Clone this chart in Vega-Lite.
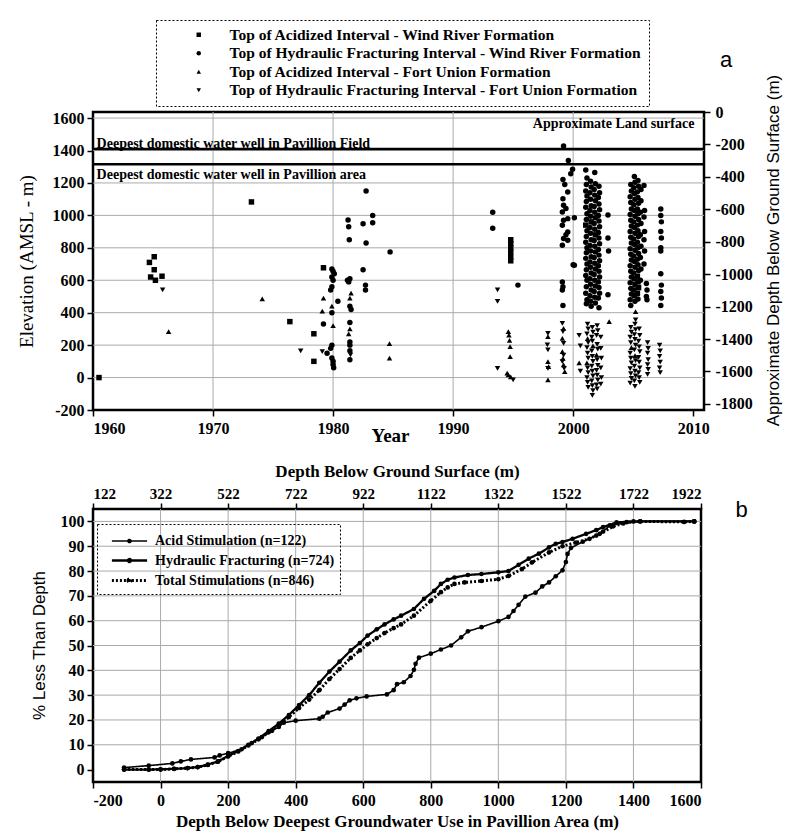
{
"$schema": "https://vega.github.io/schema/vega-lite/v6.json",
"background": "white",
"padding": {"left": 15, "top": 18, "right": 0, "bottom": 0},
"config": {
  "view": {"stroke": "black", "strokeWidth": 2.5},
  "axis": {"grid": false, "labelFont": "Liberation Serif", "labelFontWeight": "bold", "labelFontSize": 16, "labelColor": "black", "titleFont": "Liberation Serif", "titleFontSize": 19, "titleFontWeight": "normal", "titleColor": "black", "domain": false, "tickColor": "black", "tickSize": 6, "tickWidth": 1.5, "labelPadding": 3},
  "legend": {"strokeColor": "black", "strokeDash": [2, 2], "labelFont": "Liberation Serif", "labelFontWeight": "bold", "labelColor": "black", "labelLimit": 0, "title": null}
},
"datasets": {
"pa": [
{"s":"A","x":1960.5,"e":0},{"s":"A","x":1964.7,"e":710},{"s":"A","x":1965.1,"e":745},{"s":"A","x":1965.1,"e":665},{"s":"A","x":1964.8,"e":620},{"s":"A","x":1965.2,"e":600},{"s":"A","x":1965.75,"e":625},{"s":"D","x":1965.8,"e":540},{"s":"C","x":1966.3,"e":283},{"s":"A","x":1973.2,"e":1083},{"s":"C","x":1974.1,"e":485},{"s":"A","x":1976.4,"e":345},{"s":"D","x":1977.3,"e":165},{"s":"A","x":1978.4,"e":270},{"s":"A","x":1978.4,"e":100},
{"s":"A","x":1979.2,"e":677},{"s":"B","x":1979.9,"e":670},{"s":"B","x":1980.0,"e":655},{"s":"B","x":1980.1,"e":640},{"s":"B","x":1979.9,"e":620},{"s":"B","x":1980.0,"e":600},{"s":"B","x":1979.9,"e":560},{"s":"B","x":1979.8,"e":540},{"s":"C","x":1979.2,"e":490},{"s":"B","x":1980.4,"e":470},{"s":"C","x":1979.9,"e":440},{"s":"C","x":1979.1,"e":410},{"s":"B","x":1979.9,"e":400},{"s":"B","x":1979.2,"e":330},{"s":"C","x":1980.0,"e":320},{"s":"B","x":1979.9,"e":200},{"s":"B","x":1979.8,"e":180},{"s":"D","x":1979.1,"e":160},{"s":"B","x":1979.5,"e":150},{"s":"B","x":1979.9,"e":120},{"s":"B","x":1980.0,"e":100},{"s":"B","x":1980.0,"e":80},{"s":"B","x":1980.05,"e":60},
{"s":"B","x":1981.25,"e":972},{"s":"B","x":1981.3,"e":930},{"s":"B","x":1981.35,"e":850},{"s":"B","x":1981.4,"e":610},{"s":"B","x":1981.2,"e":600},{"s":"B","x":1981.3,"e":590},{"s":"C","x":1981.5,"e":520},{"s":"C","x":1981.4,"e":490},{"s":"B","x":1981.4,"e":440},{"s":"B","x":1981.5,"e":420},{"s":"B","x":1981.4,"e":340},{"s":"C","x":1981.4,"e":300},{"s":"C","x":1981.3,"e":270},{"s":"B","x":1981.4,"e":220},{"s":"B","x":1981.4,"e":200},{"s":"B","x":1981.4,"e":165},{"s":"D","x":1981.45,"e":140},{"s":"B","x":1981.4,"e":110},
{"s":"B","x":1982.5,"e":948},{"s":"B","x":1982.75,"e":1150},{"s":"B","x":1983.3,"e":1000},{"s":"B","x":1983.3,"e":955},{"s":"B","x":1982.75,"e":830},{"s":"B","x":1984.75,"e":775},{"s":"B","x":1982.5,"e":665},{"s":"B","x":1982.7,"e":570},{"s":"B","x":1982.7,"e":540},{"s":"C","x":1984.7,"e":210},{"s":"C","x":1984.7,"e":120},
{"s":"B","x":1993.3,"e":1020},{"s":"B","x":1993.3,"e":920},{"s":"A","x":1994.8,"e":850},{"s":"A","x":1994.8,"e":825},{"s":"A","x":1994.8,"e":800},{"s":"A","x":1994.8,"e":775},{"s":"A","x":1994.8,"e":745},{"s":"A","x":1994.8,"e":720},{"s":"B","x":1995.4,"e":570},{"s":"D","x":1993.7,"e":540},{"s":"D","x":1993.7,"e":470},
{"s":"C","x":1994.6,"e":283},{"s":"C","x":1994.65,"e":262},{"s":"C","x":1994.7,"e":230},{"s":"C","x":1994.75,"e":191},{"s":"C","x":1994.75,"e":129},{"s":"D","x":1993.7,"e":57},{"s":"C","x":1994.5,"e":27},{"s":"C","x":1994.6,"e":16},{"s":"C","x":1994.8,"e":5},{"s":"D","x":1995.0,"e":-14},
{"s":"D","x":1997.9,"e":273},{"s":"C","x":1997.9,"e":252},{"s":"D","x":1997.85,"e":201},{"s":"D","x":1997.9,"e":170},{"s":"C","x":1997.9,"e":98},{"s":"C","x":1997.95,"e":68},{"s":"D","x":1997.9,"e":57},{"s":"C","x":1997.9,"e":-14},
{"s":"D","x":1999.1,"e":334},{"s":"C","x":1999.2,"e":304},{"s":"D","x":1999.15,"e":283},{"s":"C","x":1999.1,"e":242},{"s":"D","x":1999.2,"e":211},{"s":"C","x":1999.1,"e":160},{"s":"D","x":1999.2,"e":139},{"s":"C","x":1999.15,"e":119},{"s":"D","x":1999.1,"e":98},{"s":"C","x":1999.2,"e":78},{"s":"D","x":1999.25,"e":57},{"s":"C","x":1999.3,"e":37},
{"s":"B","x":1999.2,"e":1428},{"s":"B","x":1999.6,"e":1339},{"s":"B","x":1999.95,"e":1284},{"s":"B","x":1999.8,"e":1257},{"s":"B","x":1999.15,"e":1222},{"s":"B","x":1999.3,"e":1190},{"s":"B","x":1999.55,"e":1144},{"s":"B","x":1999.15,"e":1103},{"s":"B","x":1999.2,"e":1062},{"s":"B","x":1999.4,"e":1042},{"s":"B","x":1999.1,"e":1021},{"s":"B","x":1999.55,"e":980},{"s":"B","x":1999.2,"e":970},{"s":"B","x":1999.1,"e":939},{"s":"B","x":1999.55,"e":898},{"s":"B","x":1999.4,"e":880},{"s":"B","x":1999.2,"e":857},{"s":"B","x":1999.55,"e":847},{"s":"B","x":1999.1,"e":816},{"s":"B","x":2000.1,"e":985},{"s":"B","x":2000.1,"e":693},{"s":"B","x":1999.1,"e":590},{"s":"B","x":1999.15,"e":560},{"s":"B","x":1999.1,"e":540},{"s":"B","x":1999.15,"e":445},{"s":"B","x":2000.0,"e":695},
{"s":"D","x":2000.5,"e":260},{"s":"D","x":2000.6,"e":195},{"s":"C","x":2000.5,"e":90},{"s":"D","x":2000.6,"e":40},
{"s":"B","x":2001.05,"e":1280},{"s":"B","x":2001.15,"e":1230},{"s":"B","x":2001.1,"e":1190},{"s":"B","x":2001.05,"e":1150},{"s":"B","x":2001.15,"e":1120},{"s":"B","x":2001.1,"e":1085},{"s":"B","x":2001.05,"e":1050},{"s":"B","x":2001.15,"e":1010},{"s":"B","x":2001.1,"e":975},{"s":"A","x":2001.05,"e":940},{"s":"B","x":2001.15,"e":905},{"s":"B","x":2001.1,"e":870},{"s":"B","x":2001.05,"e":835},{"s":"B","x":2001.15,"e":800},{"s":"B","x":2001.1,"e":770},{"s":"B","x":2001.05,"e":735},{"s":"B","x":2001.15,"e":700},{"s":"B","x":2001.1,"e":665},{"s":"B","x":2001.05,"e":630},{"s":"B","x":2001.15,"e":600},{"s":"B","x":2001.1,"e":560},{"s":"B","x":2001.05,"e":520},{"s":"B","x":2001.15,"e":480},{"s":"B","x":2001.1,"e":455},
{"s":"B","x":2001.45,"e":1210},{"s":"B","x":2001.5,"e":1175},{"s":"B","x":2001.4,"e":1140},{"s":"B","x":2001.45,"e":1100},{"s":"B","x":2001.5,"e":1060},{"s":"B","x":2001.4,"e":1030},{"s":"B","x":2001.45,"e":995},{"s":"A","x":2001.5,"e":960},{"s":"B","x":2001.4,"e":925},{"s":"B","x":2001.45,"e":890},{"s":"B","x":2001.5,"e":850},{"s":"B","x":2001.4,"e":815},{"s":"B","x":2001.45,"e":780},{"s":"B","x":2001.5,"e":745},{"s":"B","x":2001.4,"e":712},{"s":"B","x":2001.45,"e":680},{"s":"B","x":2001.5,"e":645},{"s":"B","x":2001.4,"e":610},{"s":"B","x":2001.45,"e":575},{"s":"B","x":2001.5,"e":540},{"s":"B","x":2001.4,"e":505},{"s":"B","x":2001.45,"e":470},{"s":"B","x":2001.5,"e":440},
{"s":"B","x":2001.8,"e":1265},{"s":"B","x":2001.85,"e":1195},{"s":"B","x":2001.75,"e":1160},{"s":"B","x":2001.8,"e":1125},{"s":"B","x":2001.85,"e":1090},{"s":"B","x":2001.75,"e":1055},{"s":"B","x":2001.8,"e":1020},{"s":"B","x":2001.85,"e":985},{"s":"B","x":2001.75,"e":950},{"s":"B","x":2001.8,"e":915},{"s":"A","x":2001.85,"e":880},{"s":"B","x":2001.75,"e":845},{"s":"B","x":2001.8,"e":810},{"s":"B","x":2001.85,"e":775},{"s":"B","x":2001.75,"e":740},{"s":"B","x":2001.8,"e":705},{"s":"B","x":2001.85,"e":670},{"s":"B","x":2001.75,"e":635},{"s":"B","x":2001.8,"e":600},{"s":"B","x":2001.85,"e":565},{"s":"B","x":2001.75,"e":530},{"s":"B","x":2001.8,"e":495},{"s":"B","x":2001.85,"e":460},
{"s":"B","x":2002.15,"e":1180},{"s":"B","x":2002.2,"e":1140},{"s":"B","x":2002.1,"e":1110},{"s":"B","x":2002.15,"e":1070},{"s":"B","x":2002.2,"e":1035},{"s":"B","x":2002.1,"e":1000},{"s":"B","x":2002.15,"e":965},{"s":"B","x":2002.2,"e":930},{"s":"B","x":2002.1,"e":895},{"s":"B","x":2002.15,"e":860},{"s":"B","x":2002.2,"e":825},{"s":"B","x":2002.1,"e":790},{"s":"B","x":2002.15,"e":755},{"s":"B","x":2002.2,"e":720},{"s":"B","x":2002.1,"e":690},{"s":"B","x":2002.15,"e":655},{"s":"B","x":2002.2,"e":620},{"s":"B","x":2002.1,"e":590},{"s":"B","x":2002.15,"e":555},{"s":"B","x":2002.2,"e":520},{"s":"B","x":2002.1,"e":490},{"s":"B","x":2002.15,"e":430},
{"s":"B","x":2002.9,"e":1003},{"s":"B","x":2002.9,"e":860},{"s":"B","x":2002.95,"e":780},{"s":"B","x":2002.9,"e":510},{"s":"C","x":2003.0,"e":345},
{"s":"D","x":2001.2,"e":330},{"s":"D","x":2001.25,"e":300},{"s":"D","x":2001.15,"e":270},{"s":"C","x":2001.2,"e":240},{"s":"D","x":2001.25,"e":215},{"s":"D","x":2001.15,"e":185},{"s":"D","x":2001.2,"e":150},{"s":"D","x":2001.25,"e":120},{"s":"C","x":2001.15,"e":90},{"s":"D","x":2001.2,"e":60},{"s":"D","x":2001.25,"e":30},{"s":"D","x":2001.15,"e":0},{"s":"D","x":2001.2,"e":-30},{"s":"D","x":2001.25,"e":-60},
{"s":"D","x":2001.6,"e":310},{"s":"D","x":2001.65,"e":280},{"s":"D","x":2001.55,"e":250},{"s":"D","x":2001.6,"e":225},{"s":"C","x":2001.65,"e":195},{"s":"D","x":2001.55,"e":165},{"s":"D","x":2001.6,"e":130},{"s":"D","x":2001.65,"e":100},{"s":"D","x":2001.55,"e":70},{"s":"D","x":2001.6,"e":40},{"s":"D","x":2001.65,"e":10},{"s":"D","x":2001.55,"e":-20},{"s":"D","x":2001.6,"e":-50},{"s":"D","x":2001.65,"e":-80},{"s":"D","x":2001.6,"e":-110},
{"s":"D","x":2002.0,"e":320},{"s":"D","x":2002.05,"e":290},{"s":"D","x":2001.95,"e":260},{"s":"D","x":2002.0,"e":205},{"s":"D","x":2002.05,"e":175},{"s":"C","x":2001.95,"e":140},{"s":"D","x":2002.0,"e":110},{"s":"D","x":2002.05,"e":75},{"s":"D","x":2001.95,"e":45},{"s":"D","x":2002.0,"e":15},{"s":"D","x":2002.05,"e":-15},{"s":"D","x":2001.95,"e":-45},{"s":"D","x":2002.0,"e":-70},
{"s":"D","x":2002.3,"e":250},{"s":"D","x":2002.3,"e":180},{"s":"D","x":2002.35,"e":120},{"s":"D","x":2002.3,"e":60},{"s":"D","x":2002.35,"e":0},{"s":"D","x":2002.3,"e":-40},
{"s":"B","x":2004.8,"e":1190},{"s":"B","x":2004.85,"e":1150},{"s":"B","x":2004.75,"e":1115},{"s":"B","x":2004.8,"e":1080},{"s":"B","x":2004.85,"e":1040},{"s":"B","x":2004.75,"e":1005},{"s":"B","x":2004.8,"e":970},{"s":"B","x":2004.85,"e":935},{"s":"B","x":2004.75,"e":900},{"s":"B","x":2004.8,"e":865},{"s":"B","x":2004.85,"e":830},{"s":"B","x":2004.75,"e":795},{"s":"B","x":2004.8,"e":760},{"s":"B","x":2004.85,"e":725},{"s":"B","x":2004.75,"e":690},{"s":"B","x":2004.8,"e":655},{"s":"B","x":2004.85,"e":620},{"s":"B","x":2004.75,"e":585},{"s":"B","x":2004.8,"e":550},{"s":"B","x":2004.85,"e":515},{"s":"B","x":2004.75,"e":480},{"s":"B","x":2004.8,"e":445},
{"s":"B","x":2005.1,"e":1240},{"s":"B","x":2005.15,"e":1205},{"s":"B","x":2005.05,"e":1170},{"s":"B","x":2005.1,"e":1135},{"s":"B","x":2005.15,"e":1100},{"s":"B","x":2005.05,"e":1065},{"s":"B","x":2005.1,"e":1030},{"s":"B","x":2005.15,"e":995},{"s":"B","x":2005.05,"e":960},{"s":"B","x":2005.1,"e":925},{"s":"B","x":2005.15,"e":890},{"s":"B","x":2005.05,"e":855},{"s":"B","x":2005.1,"e":820},{"s":"B","x":2005.15,"e":785},{"s":"B","x":2005.05,"e":750},{"s":"B","x":2005.1,"e":715},{"s":"B","x":2005.15,"e":680},{"s":"B","x":2005.05,"e":645},{"s":"A","x":2005.1,"e":610},{"s":"A","x":2005.15,"e":575},{"s":"A","x":2005.05,"e":540},{"s":"A","x":2005.1,"e":505},{"s":"B","x":2005.15,"e":470},
{"s":"B","x":2005.4,"e":1215},{"s":"B","x":2005.45,"e":1180},{"s":"B","x":2005.35,"e":1145},{"s":"B","x":2005.4,"e":1110},{"s":"B","x":2005.45,"e":1075},{"s":"B","x":2005.35,"e":1040},{"s":"B","x":2005.4,"e":1010},{"s":"B","x":2005.45,"e":975},{"s":"B","x":2005.35,"e":940},{"s":"B","x":2005.4,"e":905},{"s":"B","x":2005.45,"e":870},{"s":"B","x":2005.35,"e":835},{"s":"B","x":2005.4,"e":800},{"s":"B","x":2005.45,"e":765},{"s":"B","x":2005.35,"e":730},{"s":"B","x":2005.4,"e":695},{"s":"B","x":2005.45,"e":660},{"s":"A","x":2005.35,"e":625},{"s":"A","x":2005.4,"e":590},{"s":"A","x":2005.45,"e":555},{"s":"A","x":2005.35,"e":520},{"s":"B","x":2005.4,"e":485},
{"s":"B","x":2005.65,"e":1160},{"s":"B","x":2005.65,"e":1090},{"s":"B","x":2005.6,"e":1020},{"s":"B","x":2005.65,"e":950},{"s":"B","x":2005.6,"e":880},{"s":"B","x":2005.65,"e":810},{"s":"B","x":2005.6,"e":740},{"s":"B","x":2005.65,"e":670},{"s":"B","x":2005.6,"e":600},
{"s":"B","x":2005.9,"e":1185},{"s":"B","x":2005.95,"e":1030},{"s":"B","x":2005.9,"e":990},{"s":"B","x":2005.95,"e":900},{"s":"B","x":2005.9,"e":850},{"s":"B","x":2005.95,"e":780},{"s":"B","x":2005.9,"e":700},{"s":"B","x":2006.1,"e":580},{"s":"B","x":2006.15,"e":540},{"s":"B","x":2006.1,"e":500},{"s":"B","x":2006.15,"e":480},
{"s":"B","x":2007.3,"e":1040},{"s":"B","x":2007.3,"e":1000},{"s":"B","x":2007.35,"e":960},{"s":"B","x":2007.3,"e":900},{"s":"B","x":2007.35,"e":860},{"s":"B","x":2007.3,"e":800},{"s":"B","x":2007.3,"e":780},{"s":"B","x":2007.3,"e":640},{"s":"B","x":2007.35,"e":570},{"s":"B","x":2007.3,"e":530},{"s":"B","x":2007.35,"e":490},{"s":"B","x":2007.3,"e":445},
{"s":"C","x":2005.2,"e":406},{"s":"D","x":2005.2,"e":355},
{"s":"D","x":2004.8,"e":310},{"s":"D","x":2004.85,"e":280},{"s":"D","x":2004.75,"e":250},{"s":"D","x":2004.8,"e":215},{"s":"C","x":2004.85,"e":185},{"s":"D","x":2004.75,"e":150},{"s":"D","x":2004.8,"e":120},{"s":"D","x":2004.85,"e":90},{"s":"D","x":2004.75,"e":55},{"s":"D","x":2004.8,"e":25},{"s":"D","x":2004.85,"e":-5},{"s":"D","x":2004.75,"e":-35},
{"s":"D","x":2005.15,"e":330},{"s":"D","x":2005.2,"e":295},{"s":"D","x":2005.1,"e":265},{"s":"D","x":2005.15,"e":235},{"s":"D","x":2005.2,"e":200},{"s":"D","x":2005.1,"e":170},{"s":"C","x":2005.15,"e":135},{"s":"D","x":2005.2,"e":105},{"s":"D","x":2005.1,"e":70},{"s":"D","x":2005.15,"e":40},{"s":"D","x":2005.2,"e":10},{"s":"D","x":2005.1,"e":-20},{"s":"D","x":2005.15,"e":-55},
{"s":"D","x":2005.5,"e":300},{"s":"D","x":2005.55,"e":260},{"s":"D","x":2005.45,"e":225},{"s":"D","x":2005.5,"e":190},{"s":"D","x":2005.55,"e":160},{"s":"D","x":2005.45,"e":125},{"s":"D","x":2005.5,"e":95},{"s":"D","x":2005.55,"e":60},{"s":"D","x":2005.45,"e":30},{"s":"D","x":2005.5,"e":0},{"s":"D","x":2005.55,"e":-30},
{"s":"D","x":2006.2,"e":215},{"s":"D","x":2006.25,"e":180},{"s":"D","x":2006.2,"e":150},{"s":"D","x":2006.25,"e":110},{"s":"D","x":2006.2,"e":80},{"s":"D","x":2006.25,"e":50},{"s":"D","x":2006.2,"e":20},
{"s":"D","x":2007.2,"e":200},{"s":"D","x":2007.25,"e":165},{"s":"D","x":2007.2,"e":130},{"s":"D","x":2007.25,"e":95},{"s":"D","x":2007.2,"e":60},{"s":"D","x":2007.25,"e":30}
],
"pb": [
{"s":"A","d":-108,"p":0.8},{"s":"A","d":-35,"p":1.6},{"s":"A","d":35,"p":2.5},{"s":"A","d":60,"p":3.3},{"s":"A","d":90,"p":4.1},{"s":"A","d":160,"p":4.9},{"s":"A","d":175,"p":5.7},{"s":"A","d":200,"p":6.6},{"s":"A","d":240,"p":8.2},{"s":"A","d":270,"p":10.7},{"s":"A","d":300,"p":13.1},{"s":"A","d":330,"p":15.6},{"s":"A","d":350,"p":17.2},{"s":"A","d":365,"p":18.9},{"s":"A","d":400,"p":19.7},{"s":"A","d":470,"p":20.5},{"s":"A","d":480,"p":21.3},{"s":"A","d":495,"p":23},{"s":"A","d":530,"p":24.6},{"s":"A","d":545,"p":26.2},{"s":"A","d":560,"p":27.9},{"s":"A","d":580,"p":28.7},{"s":"A","d":610,"p":29.5},{"s":"A","d":670,"p":30.3},{"s":"A","d":690,"p":32},{"s":"A","d":700,"p":34.4},{"s":"A","d":720,"p":35.2},{"s":"A","d":740,"p":37.7},{"s":"A","d":750,"p":40.2},{"s":"A","d":755,"p":42.6},{"s":"A","d":765,"p":45.1},{"s":"A","d":800,"p":46.7},{"s":"A","d":830,"p":48.4},{"s":"A","d":860,"p":50},{"s":"A","d":890,"p":53.3},{"s":"A","d":910,"p":55.7},{"s":"A","d":950,"p":57.4},{"s":"A","d":1000,"p":59.8},{"s":"A","d":1030,"p":61.5},{"s":"A","d":1045,"p":63.9},{"s":"A","d":1060,"p":66.4},{"s":"A","d":1080,"p":69.7},{"s":"A","d":1110,"p":71.3},{"s":"A","d":1130,"p":73.8},{"s":"A","d":1150,"p":75.4},{"s":"A","d":1170,"p":77.9},{"s":"A","d":1190,"p":80.3},{"s":"A","d":1200,"p":83.6},{"s":"A","d":1205,"p":86.9},{"s":"A","d":1215,"p":89.3},{"s":"A","d":1250,"p":91.8},{"s":"A","d":1290,"p":94.3},{"s":"A","d":1310,"p":95.9},{"s":"A","d":1330,"p":98.4},{"s":"A","d":1370,"p":99.2},{"s":"A","d":1420,"p":100},{"s":"A","d":1580,"p":100},
{"s":"H","d":-108,"p":0},{"s":"H","d":-35,"p":0},{"s":"H","d":0,"p":0.1},{"s":"H","d":40,"p":0.3},{"s":"H","d":80,"p":0.6},{"s":"H","d":110,"p":1.0},{"s":"H","d":140,"p":2},{"s":"H","d":170,"p":3.3},{"s":"H","d":200,"p":5.5},{"s":"H","d":230,"p":7.5},{"s":"H","d":260,"p":10},{"s":"H","d":290,"p":12.5},{"s":"H","d":320,"p":15.5},{"s":"H","d":350,"p":18.5},{"s":"H","d":380,"p":22},{"s":"H","d":410,"p":26},{"s":"H","d":440,"p":30},{"s":"H","d":470,"p":35},{"s":"H","d":500,"p":39.5},{"s":"H","d":530,"p":43.5},{"s":"H","d":563,"p":48},{"s":"H","d":590,"p":51},{"s":"H","d":613,"p":54},{"s":"H","d":640,"p":56.5},{"s":"H","d":663,"p":58.5},{"s":"H","d":690,"p":60.5},{"s":"H","d":712,"p":62},{"s":"H","d":750,"p":64.7},{"s":"H","d":780,"p":68.8},{"s":"H","d":810,"p":72},{"s":"H","d":830,"p":74.8},{"s":"H","d":850,"p":76.5},{"s":"H","d":870,"p":77.4},{"s":"H","d":910,"p":78.4},{"s":"H","d":950,"p":78.8},{"s":"H","d":1000,"p":79.5},{"s":"H","d":1030,"p":80},{"s":"H","d":1060,"p":82.5},{"s":"H","d":1090,"p":85},{"s":"H","d":1120,"p":87},{"s":"H","d":1150,"p":89.5},{"s":"H","d":1170,"p":91},{"s":"H","d":1190,"p":91.7},{"s":"H","d":1220,"p":93},{"s":"H","d":1260,"p":95},{"s":"H","d":1290,"p":96.5},{"s":"H","d":1310,"p":97.7},{"s":"H","d":1350,"p":99.6},{"s":"H","d":1400,"p":100},{"s":"H","d":1580,"p":100},
{"s":"T","d":-108,"p":0},{"s":"T","d":-35,"p":0},{"s":"T","d":0,"p":0},{"s":"T","d":40,"p":0.3},{"s":"T","d":80,"p":0.6},{"s":"T","d":110,"p":1.0},{"s":"T","d":140,"p":1.9},{"s":"T","d":170,"p":3.2},{"s":"T","d":200,"p":5.3},{"s":"T","d":230,"p":7.3},{"s":"T","d":260,"p":9.7},{"s":"T","d":290,"p":12.2},{"s":"T","d":320,"p":15},{"s":"T","d":350,"p":18},{"s":"T","d":380,"p":21.2},{"s":"T","d":410,"p":24.8},{"s":"T","d":440,"p":28.2},{"s":"T","d":470,"p":32},{"s":"T","d":500,"p":36.5},{"s":"T","d":530,"p":40.5},{"s":"T","d":563,"p":45},{"s":"T","d":590,"p":48},{"s":"T","d":613,"p":50.5},{"s":"T","d":640,"p":53},{"s":"T","d":663,"p":55},{"s":"T","d":690,"p":57},{"s":"T","d":712,"p":58.5},{"s":"T","d":750,"p":62},{"s":"T","d":800,"p":68},{"s":"T","d":830,"p":71.5},{"s":"T","d":850,"p":73.4},{"s":"T","d":870,"p":74.8},{"s":"T","d":900,"p":75.4},{"s":"T","d":950,"p":76},{"s":"T","d":1000,"p":76.7},{"s":"T","d":1030,"p":78},{"s":"T","d":1070,"p":80.8},{"s":"T","d":1100,"p":83.5},{"s":"T","d":1150,"p":87.5},{"s":"T","d":1190,"p":90},{"s":"T","d":1230,"p":91.5},{"s":"T","d":1270,"p":93},{"s":"T","d":1300,"p":95},{"s":"T","d":1340,"p":98},{"s":"T","d":1380,"p":99.7},{"s":"T","d":1420,"p":100},{"s":"T","d":1550,"p":99.8},{"s":"T","d":1580,"p":100}
]
},
"bounds": "flush",
"spacing": 99,
"resolve": {"scale": {"x": "independent", "y": "independent", "color": "independent", "shape": "independent", "strokeDash": "independent", "strokeWidth": "independent"}},
"vconcat": [
{
  "width": 611, "height": 298,
  "resolve": {"axis": {"y": "independent"}},
  "layer": [
    {
      "data": {"values": [{"g": 1970}, {"g": 1980}, {"g": 1990}, {"g": 2000}]},
      "mark": {"type": "rule", "color": "#aaaaaa", "strokeWidth": 1},
      "encoding": {
        "x": {"field": "g", "type": "quantitative", "scale": {"domain": [1960, 2010.9], "nice": false, "zero": false}}
      }
    },
    {
      "data": {"values": [{"h": 0}, {"h": 200}, {"h": 400}, {"h": 600}, {"h": 800}, {"h": 1000}, {"h": 1200}, {"h": 1400}, {"h": 1600}]},
      "mark": {"type": "rule", "color": "#aaaaaa", "strokeWidth": 1},
      "encoding": {
        "y": {"field": "h", "type": "quantitative", "scale": {"domain": [-200, 1637.5], "nice": false, "zero": false}, "axis": null}
      }
    },
    {
      "data": {"name": "pa"},
      "mark": {"type": "point", "filled": true, "size": 30, "color": "black", "opacity": 1},
      "encoding": {
        "x": {"field": "x", "type": "quantitative", "scale": {"domain": [1960, 2010.9], "nice": false, "zero": false},
              "axis": {"values": [1960, 1970, 1980, 1990, 2000, 2010], "labelExpr": "'' + datum.value", "labelPadding": 4, "title": "Year", "titleX": 297, "titleY": 25, "titleBaseline": "middle", "titleFontWeight": "bold"}},
        "y": {"field": "e", "type": "quantitative", "scale": {"domain": [-200, 1637.5], "nice": false, "zero": false},
              "axis": {"values": [-200, 0, 200, 400, 600, 800, 1000, 1200, 1400, 1600], "labelExpr": "'' + datum.value", "title": "Elevation (AMSL - m)", "titleX": -67, "titleY": 149, "titleBaseline": "middle"}},
        "shape": {"field": "s", "type": "nominal", "scale": {"domain": ["A", "B", "C", "D"], "range": ["square", "circle", "triangle-up", "triangle-down"]},
              "legend": {"orient": "none", "legendX": 63, "legendY": -92, "direction": "vertical", "padding": 7, "symbolOffset": 28, "labelOffset": 23, "symbolSize": 20, "symbolFillColor": "black", "symbolStrokeColor": "black", "labelFontSize": 15.5, "rowPadding": 1.5,
                         "labelExpr": "datum.label == 'A' ? 'Top of Acidized Interval - Wind River Formation' : datum.label == 'B' ? 'Top of Hydraulic Fracturing Interval - Wind River Formation' : datum.label == 'C' ? 'Top of Acidized Interval - Fort Union Formation' : 'Top of Hydraulic Fracturing Interval - Fort Union Formation'"}}
      }
    },
    {
      "data": {"values": [{"e": 1410}, {"e": 1315}]},
      "mark": {"type": "rule", "color": "black", "strokeWidth": 2.5},
      "encoding": {
        "y": {"field": "e", "type": "quantitative", "scale": {"domain": [-200, 1637.5], "nice": false, "zero": false},
              "axis": {"orient": "right", "values": [1637.5, 1437.5, 1237.5, 1037.5, 837.5, 637.5, 437.5, 237.5, 37.5, -162.5], "labelExpr": "'' + (datum.value - 1637.5)", "labelPadding": 5,
                       "title": "Approximate Depth Below Ground Surface (m)", "titleFont": "Liberation Sans", "titleFontSize": 17, "titleAngle": 270, "titleX": 69, "titleY": 138, "titleBaseline": "middle"}}
      }
    },
    {
      "data": {"values": [{"x": 1960.3, "e": 1442, "t": "Deepest domestic water well in Pavillion Field"}, {"x": 1960.3, "e": 1250, "t": "Deepest domestic water well in Pavillion area"}]},
      "mark": {"type": "text", "align": "left", "baseline": "middle", "font": "Liberation Serif", "fontWeight": "bold", "fontSize": 14, "color": "black"},
      "encoding": {
        "x": {"field": "x", "type": "quantitative", "scale": {"domain": [1960, 2010.9], "nice": false, "zero": false}},
        "y": {"field": "e", "type": "quantitative", "scale": {"domain": [-200, 1637.5], "nice": false, "zero": false}, "axis": null},
        "text": {"field": "t"}
      }
    },
    {
      "data": {"values": [{"x": 2010.1, "e": 1563, "t": "Approximate Land surface"}]},
      "mark": {"type": "text", "align": "right", "baseline": "middle", "font": "Liberation Serif", "fontWeight": "bold", "fontSize": 14, "color": "black"},
      "encoding": {
        "x": {"field": "x", "type": "quantitative", "scale": {"domain": [1960, 2010.9], "nice": false, "zero": false}},
        "y": {"field": "e", "type": "quantitative", "scale": {"domain": [-200, 1637.5], "nice": false, "zero": false}, "axis": null},
        "text": {"field": "t"}
      }
    },
    {
      "data": {"values": [{"x": 2012.75, "e": 1957, "t": "a"}]},
      "mark": {"type": "text", "align": "center", "baseline": "middle", "font": "Liberation Sans", "fontSize": 22, "color": "black"},
      "encoding": {
        "x": {"field": "x", "type": "quantitative", "scale": {"domain": [1960, 2010.9], "nice": false, "zero": false}},
        "y": {"field": "e", "type": "quantitative", "scale": {"domain": [-200, 1637.5], "nice": false, "zero": false}, "axis": null},
        "text": {"field": "t"}
      }
    }
  ]
},
{
  "width": 608, "height": 273,
  "resolve": {"axis": {"x": "independent", "y": "independent"}},
  "layer": [
    {
      "data": {"values": [{"g": 0}, {"g": 200}, {"g": 400}, {"g": 600}, {"g": 800}, {"g": 1000}, {"g": 1200}, {"g": 1400}]},
      "mark": {"type": "rule", "color": "#aaaaaa", "strokeWidth": 1},
      "encoding": {
        "x": {"field": "g", "type": "quantitative", "scale": {"domain": [-200, 1600], "nice": false, "zero": false}, "axis": null}
      }
    },
    {
      "data": {"values": [{"h": 10}, {"h": 20}, {"h": 30}, {"h": 40}, {"h": 50}, {"h": 60}, {"h": 70}, {"h": 80}, {"h": 90}, {"h": 100}]},
      "mark": {"type": "rule", "color": "#aaaaaa", "strokeWidth": 1},
      "encoding": {
        "y": {"field": "h", "type": "quantitative", "scale": {"domain": [-5, 105], "nice": false, "zero": false}, "axis": null}
      }
    },
    {
      "data": {"name": "pb"},
      "mark": {"type": "line", "point": {"filled": true, "size": 22, "color": "black"}},
      "encoding": {
        "x": {"field": "d", "type": "quantitative", "scale": {"domain": [-200, 1600], "nice": false, "zero": false},
              "axis": {"values": [-200, 0, 200, 400, 600, 800, 1000, 1200, 1400, 1600], "labelExpr": "'' + datum.value", "labelPadding": 4, "title": "Depth Below Deepest Groundwater Use in Pavillion Area (m)", "titleFontWeight": "bold", "titleFontSize": 17, "titlePadding": 5}},
        "y": {"field": "p", "type": "quantitative", "scale": {"domain": [-5, 105], "nice": false, "zero": false},
              "axis": {"values": [0, 10, 20, 30, 40, 50, 60, 70, 80, 90, 100], "title": "% Less Than Depth", "titleFont": "Liberation Sans", "titleFontSize": 17, "titleX": -54, "titleY": 136, "titleBaseline": "middle"}},
        "strokeWidth": {"field": "s", "type": "nominal", "scale": {"domain": ["A", "H", "T"], "range": [1.6, 3, 3]}, "legend": null},
        "color": {"field": "s", "type": "nominal", "scale": {"domain": ["A", "H", "T"], "range": ["black", "black", "black"]},
              "legend": {"orient": "none", "legendX": 4, "legendY": 15, "padding": 5, "symbolType": "M-1.6,0L1.6,0M-0.14,0A0.14,0.14,0,1,1,0.14,0A0.14,0.14,0,1,1,-0.14,0Z", "symbolSize": 484, "symbolStrokeWidth": 1.2, "symbolOffset": 15, "labelOffset": 13, "labelFontSize": 14, "rowPadding": 0,
                         "labelExpr": "datum.label == 'A' ? 'Acid Stimulation (n=122)' : datum.label == 'H' ? 'Hydraulic Fracturing (n=724)' : 'Total Stimulations (n=846)'",
                         "encode": {"symbols": {"update": {"fill": {"value": "black"}, "stroke": {"value": "black"}, "strokeWidth": {"value": 1.2}}}}}},
        "strokeDash": {"field": "s", "type": "nominal", "scale": {"domain": ["A", "H", "T"], "range": [[1, 0], [1, 0], [2, 2]]},
              "legend": {"orient": "none", "legendX": 4, "legendY": 15, "padding": 5, "symbolType": "M-1.6,0L1.6,0M-0.14,0A0.14,0.14,0,1,1,0.14,0A0.14,0.14,0,1,1,-0.14,0Z", "symbolSize": 484, "symbolStrokeWidth": 1.2, "symbolOffset": 15, "labelOffset": 13, "labelFontSize": 14, "rowPadding": 0,
                         "labelExpr": "datum.label == 'A' ? 'Acid Stimulation (n=122)' : datum.label == 'H' ? 'Hydraulic Fracturing (n=724)' : 'Total Stimulations (n=846)'",
                         "encode": {"symbols": {"update": {"fill": {"value": "black"}, "stroke": {"value": "black"}, "strokeWidth": {"value": 1.2}}}}}}
      }
    },
    {
      "data": {"name": "pb"},
      "mark": {"type": "point", "opacity": 0},
      "encoding": {
        "x": {"field": "d", "type": "quantitative", "scale": {"domain": [-200, 1600], "nice": false, "zero": false},
              "axis": {"orient": "top", "values": [-200, 0, 200, 400, 600, 800, 1000, 1200, 1400, 1600], "labelExpr": "'' + (datum.value + 322)", "labelFontSize": 15, "labelPadding": 2, "title": "Depth Below Ground Surface (m)", "titleFontWeight": "bold", "titleFontSize": 17, "titlePadding": 6}},
        "y": {"field": "p", "type": "quantitative", "scale": {"domain": [-5, 105], "nice": false, "zero": false}, "axis": null}
      }
    },
    {
      "data": {"values": [{"d": 1720, "p": 104.4, "t": "b"}]},
      "mark": {"type": "text", "align": "center", "baseline": "middle", "font": "Liberation Sans", "fontSize": 22, "color": "black"},
      "encoding": {
        "x": {"field": "d", "type": "quantitative", "scale": {"domain": [-200, 1600], "nice": false, "zero": false}, "axis": null},
        "y": {"field": "p", "type": "quantitative", "scale": {"domain": [-5, 105], "nice": false, "zero": false}, "axis": null},
        "text": {"field": "t"}
      }
    }
  ]
}
]
}
